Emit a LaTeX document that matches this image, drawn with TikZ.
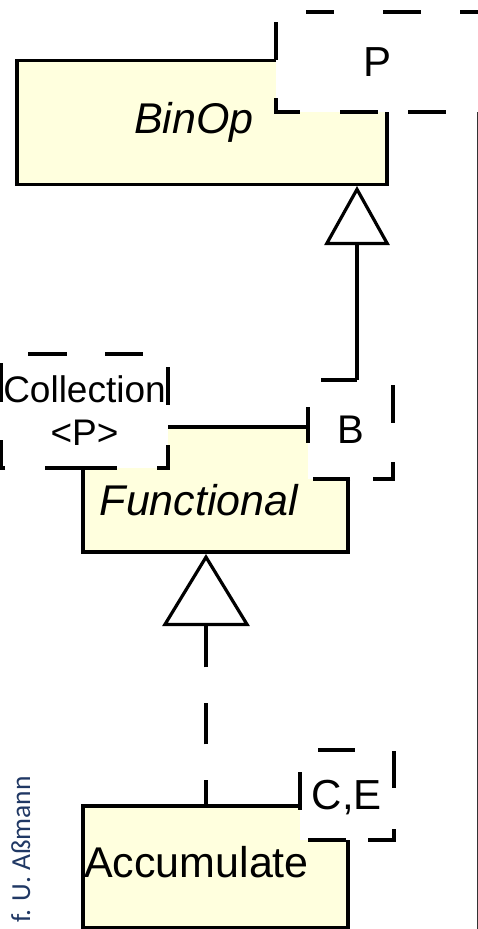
\documentclass[tikz,border=0pt]{standalone}
\usepackage{fontspec}
\setmainfont{Liberation Sans}
\newfontfamily\authorfont{Carlito}
\usetikzlibrary{arrows.meta}
\definecolor{classfill}{RGB}{255,255,222}
\definecolor{authorblue}{RGB}{32,56,100}
\begin{document}
\begin{tikzpicture}[x=1pt,y=-1pt,
  classbox/.style={draw=black, line width=3.2pt, fill=classfill, inner sep=0pt},
  tbox/.style={fill=white, inner sep=0pt},
  tdash/.style={draw=black, line width=3.2pt, line cap=butt, line join=miter},
  cname/.style={inner sep=0pt, anchor=base, font=\fontsize{43}{43}\selectfont},
  aname/.style={cname, font=\fontsize{43}{43}\selectfont\itshape},
  tname/.style={font=\fontsize{42}{42}\selectfont},
  genline/.style={draw=black, line width=3.2pt},
]
\useasboundingbox (0,0) rectangle (478,929);
\clip (0,0) rectangle (478,929);

% BinOp with template parameter P
\node[classbox, minimum width=370pt, minimum height=124pt] (binop) at (202,122.5) {};
\node[aname] (binopT) at (194,133) {BinOp};
\coordinate (gen1) at (357,186);
\node[tbox, tname, minimum width=204pt, minimum height=100pt] (P) at (378,62) {P};
\draw[tdash] (276,22) -- (276,60);
\draw[tdash] (276,98) -- (276,112) -- (300,112);
\draw[tdash] (340,112) -- (378,112);
\draw[tdash] (408,112) -- (446,112);
\draw[tdash] (306,12) -- (334,12);
\draw[tdash] (383,12) -- (421,12);
\draw[tdash] (460,12) -- (480,12);

% Functional
\node[classbox, minimum width=265pt, minimum height=125pt] (functional) at (215.5,489.5) {};
\node[aname] (functionalT) at (199,515) {Functional};
\coordinate (gen2) at (206,554);

\node[tbox, minimum width=167pt, minimum height=114pt, align=center,
      font=\fontsize{37}{43}\selectfont] (coll) at (84.5,411) {Collection\\<P>};
\draw[tdash] (28,354) -- (67,354);
\draw[tdash] (105,354) -- (143,354);
\draw[tdash] (168,367) -- (168,405);
\draw[tdash] (168,445) -- (168,468) -- (157,468);
\draw[tdash] (117,468) -- (45,468);
\draw[tdash] (5,468) -- (1,468) -- (1,440);
\draw[tdash] (1,402) -- (1,363);

\node[tbox, minimum width=85pt, minimum height=99pt, font=\fontsize{40}{40}\selectfont] (B) at (350.5,429.5) {B};
\draw[tdash] (321,380) -- (357,380);
\draw[tdash] (308,407) -- (308,443);
\draw[tdash] (393,385) -- (393,423);
\draw[tdash] (393,462) -- (393,479) -- (373,479);
\draw[tdash] (350,479) -- (313,479);

\draw[genline, -{Triangle[open, length=59pt, width=65pt]}] (B.north -| gen1) -- (gen1);

% Accumulate
\node[classbox, minimum width=265pt, minimum height=122pt] (accumulate) at (215.5,867) {};
\node[cname] (accumulateT) at (196.5,877) {Accumulate};
\node[tbox, tname, minimum width=94pt, minimum height=90pt, text depth=0pt] (CE) at (347,795) {C,E};
\draw[tdash] (318,750) -- (355,750);
\draw[tdash] (300,772) -- (300,810);
\draw[tdash] (394,751) -- (394,788);
\draw[tdash] (394,829) -- (394,840) -- (368,840);
\draw[tdash] (346,840) -- (308,840);

\draw[genline, dash pattern=on 41pt off 36pt, dash phase=17pt,
      -{Triangle[open, length=72pt, width=87pt]}] (accumulate.north -| gen2) -- (gen2);

% right frame line
\draw[line width=1.2pt, black!80] (477.5,112) -- (477.5,929);

% author
\node[rotate=90, anchor=base west, inner sep=0pt, text=authorblue,
      font=\authorfont\fontsize{27.5}{27.5}\selectfont] (author) at (30,923) {f. U. Aßmann};
\end{tikzpicture}
\end{document}
